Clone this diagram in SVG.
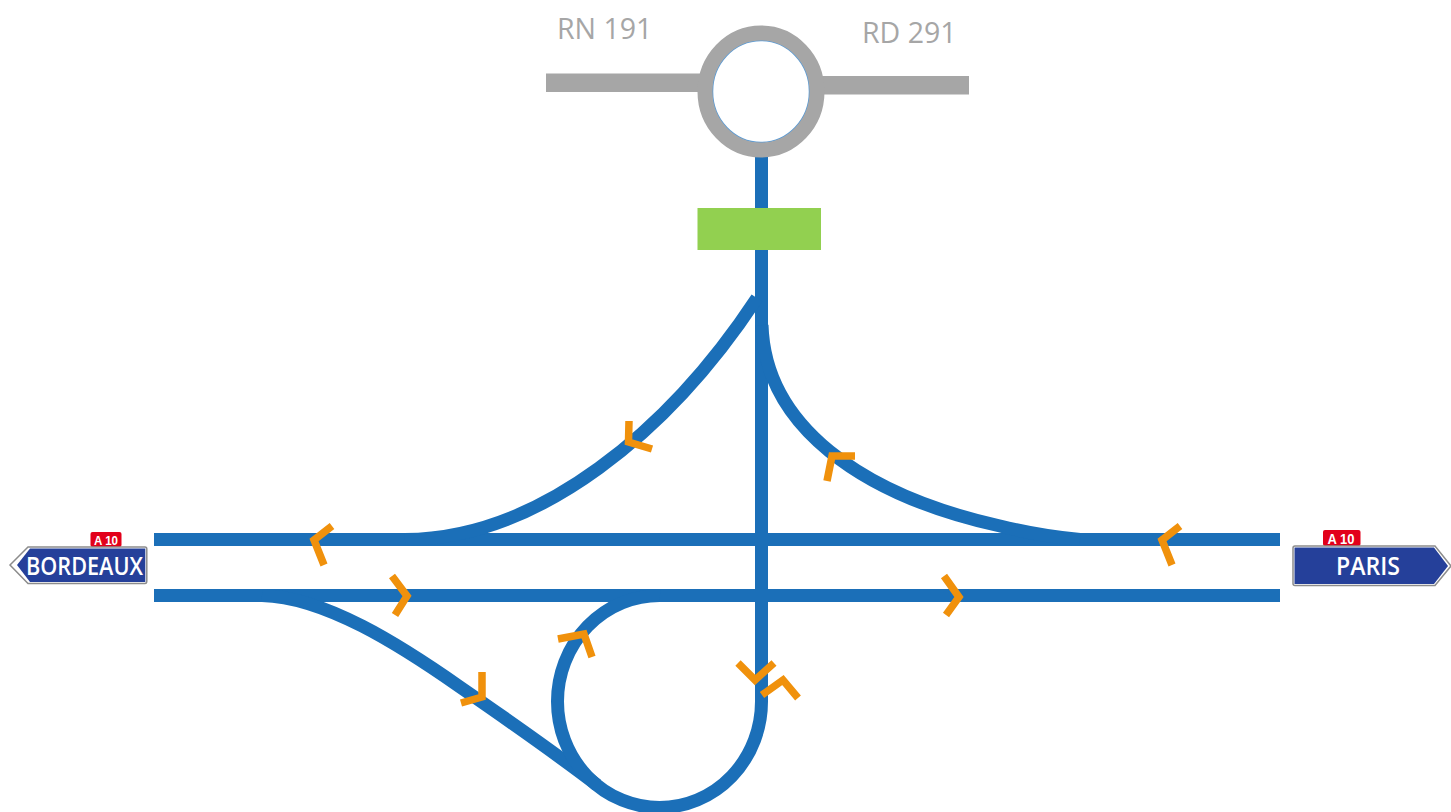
<svg xmlns="http://www.w3.org/2000/svg" width="1451" height="812" viewBox="0 0 1451 812">
<style>
.road{fill:none;stroke:#1b6fb8;stroke-width:13}
.chev{fill:none;stroke:#f0910c;stroke-width:7.500;stroke-linejoin:miter}
.grey{fill:#a6a6a6}
.lbl{font-family:"Open Sans","Noto Sans","Liberation Sans",sans-serif;font-size:28.500px;fill:#a6a6a6}
.badge{fill:#e2001a}
.btxt{font-family:"Liberation Sans",Arial,sans-serif;font-weight:700;fill:#fff;text-anchor:middle}
.plate{fill:#fff;stroke:#8c8c8c;stroke-width:1.500}
.sign{fill:#25409a}
.stxt{font-family:"Open Sans","Noto Sans","Liberation Sans",sans-serif;font-weight:600;fill:#fff;text-anchor:middle}
</style>
<rect width="1451" height="812" fill="#fff"/>
<g id="connectors">
<path class="road" d="M154 539.500H1280"/>
<path class="road" d="M154 595.500H1280"/>
<path class="road" d="M761.500 157V701"/>
<path class="road" d="M757 298C670 430 540 539 405 539.500"/>
<path class="road" d="M762 325C765 425 860 495 1000 526Q1040 536 1080 539.500"/>
<path class="road" d="M262 595.500C325 597 400 645 460 687C505 718 555 753 597 785"/>
<path class="road" d="M660 595.500A102 106 0 1 0 761.500 701"/>
</g>
<g id="chevrons">
<path class="chev" d="M629 421L628.500 442L652 449"/>
<path class="chev" d="M827 481L832 456L855 456"/>
<path class="chev" d="M332 526L314 540L324 565"/>
<path class="chev" d="M1180 526L1162 540L1172 565"/>
<path class="chev" d="M392 576L407 596L395 615"/>
<path class="chev" d="M944 576L959 597L946 615"/>
<path class="chev" d="M461 703L482 697L482 672"/>
<path class="chev" d="M558 639L584 634L592 657"/>
<path class="chev" d="M738 663L755 680L774 663"/>
<path class="chev" d="M762 695L783 680L798 698"/>
</g>
<g id="roundabout">
<rect class="grey" x="546" y="73.500" width="154" height="18.500"/>
<rect class="grey" x="820" y="76" width="149" height="18.500"/>
<ellipse cx="761" cy="91.500" rx="48.500" ry="51" fill="#fff" stroke="#5b9bd5" stroke-width="1.500"/>
<ellipse cx="761" cy="91.500" rx="56" ry="58.500" fill="none" stroke="#a6a6a6" stroke-width="15"/>
</g>
<g id="toll"><rect x="697.500" y="208" width="123.500" height="42" fill="#92d050"/></g>
<g id="label-rn191"><text class="lbl" x="557" y="39">RN 191</text></g>
<g id="label-rd291"><text class="lbl" x="862" y="43">RD 291</text></g>
<g id="sign-bordeaux">
<rect class="badge" x="90.500" y="532" width="31" height="15" rx="2"/>
<text class="btxt" x="106" y="544.500" font-size="13" textLength="24" lengthAdjust="spacingAndGlyphs">A 10</text>
<path class="plate" d="M10 565L28 547H145Q146.800 547 146.800 549V581Q146.800 583.500 145 583.500H28Z"/>
<path class="sign" d="M17 565L30 548.500H145.300V582H30Z"/>
<text class="stxt" x="84.500" y="575" font-size="26" textLength="117" lengthAdjust="spacingAndGlyphs">BORDEAUX</text>
</g>
<g id="sign-paris">
<rect class="badge" x="1323" y="530" width="37.500" height="16" rx="2"/>
<text class="btxt" x="1341" y="543.500" font-size="14" textLength="27" lengthAdjust="spacingAndGlyphs">A 10</text>
<path class="plate" d="M1295 546H1435L1451 566L1435 585.500H1295Q1293 585.500 1293 583.500V548Q1293 546 1295 546Z"/>
<path class="sign" d="M1294.500 547.500H1434L1448 566L1434 584H1294.500Z"/>
<text class="stxt" x="1368" y="575" font-size="25" textLength="64" lengthAdjust="spacingAndGlyphs">PARIS</text>
</g>
</svg>
